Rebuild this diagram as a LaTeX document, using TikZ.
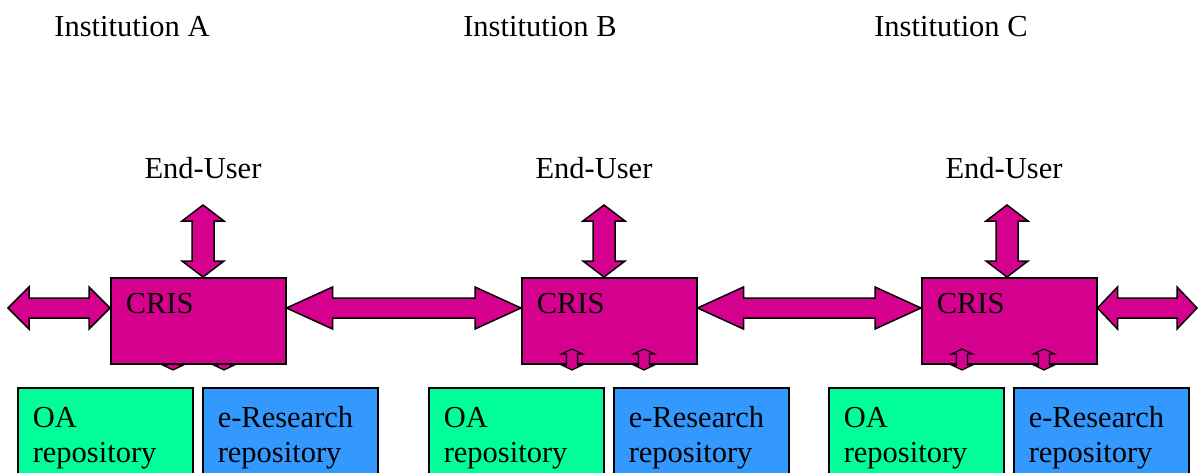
\documentclass[tikz,border=0pt]{standalone}
\usepackage{fontspec}
\setmainfont{Liberation Serif}
\usetikzlibrary{calc}

\definecolor{crismag}{RGB}{214,0,143}
\definecolor{oagreen}{RGB}{0,255,153}
\definecolor{eresblue}{RGB}{51,153,255}

\tikzset{
	box/.style={draw=black, line width=1.5pt, anchor=north west, inner sep=15pt, text width=145pt},
	crisbox/.style={box, fill=crismag, minimum height=86pt, text height=21pt, text depth=35pt},
	oabox/.style={box, fill=oagreen, align=left, minimum height=100pt},
	eresbox/.style={box, fill=eresblue, align=left, minimum height=100pt},
	blockarrow/.style={draw=black, line width=1.5pt, fill=crismag, line join=miter},
	smallarrow/.style={blockarrow, line width=1.2pt},
	label/.style={anchor=base}
}

% horizontal double block arrow: left end, right end, head length
\newcommand\harrow[3]{%
	\draw[blockarrow] let \p1=#1, \p2=#2 in
		(\x1,\y1) -- (\x1+#3,\y1+21pt) -- (\x1+#3,\y1+10pt) -- (\x2-#3,\y1+10pt)
		-- (\x2-#3,\y1+21pt) -- (\x2,\y1) -- (\x2-#3,\y1-21pt) -- (\x2-#3,\y1-10pt)
		-- (\x1+#3,\y1-10pt) -- (\x1+#3,\y1-21pt) -- cycle;}

% vertical double block arrow: top end, bottom end, head length, head half width, shaft half width, style
\newcommand\varrow[6]{%
	\draw[#6] let \p1=#1, \p2=#2 in
		(\x1,\y1) -- (\x1+#4,\y1-#3) -- (\x1+#5,\y1-#3) -- (\x1+#5,\y2+#3)
		-- (\x1+#4,\y2+#3) -- (\x1,\y2) -- (\x1-#4,\y2+#3) -- (\x1-#5,\y2+#3)
		-- (\x1-#5,\y1-#3) -- (\x1-#4,\y1-#3) -- cycle;}

\begin{document}
\begin{tikzpicture}[x=1pt, y=-1pt, font=\fontsize{30.5}{35}\selectfont]
	\clip (0,0) rectangle (1198,472);

	% titles
	\node[label] (instA) at (132,36) {Institution A};
	\node[label] (instB) at (540,36) {Institution B};
	\node[label] (instC) at (951,36) {Institution C};

	\node[label] (userA) at (203,178) {End-User};
	\node[label] (userB) at (594,178) {End-User};
	\node[label] (userC) at (1004,178) {End-User};

	% links to the repositories (A lies under its box)
	\varrow{(173,349)}{(173,370)}{5pt}{10.5pt}{5.5pt}{smallarrow}
	\varrow{(224,349)}{(224,370)}{5pt}{10.5pt}{5.5pt}{smallarrow}

	% CRIS boxes
	\node[crisbox] (crisA) at (110,277) {CRIS};
	\node[crisbox] (crisB) at (521,277) {CRIS};
	\node[crisbox] (crisC) at (921,277) {CRIS};

	\varrow{(572,349)}{(572,370)}{5pt}{10.5pt}{5.5pt}{smallarrow}
	\varrow{(644,349)}{(644,370)}{5pt}{10.5pt}{5.5pt}{smallarrow}
	\varrow{(962,349)}{(962,370)}{5pt}{10.5pt}{5.5pt}{smallarrow}
	\varrow{(1044,349)}{(1044,370)}{5pt}{10.5pt}{5.5pt}{smallarrow}

	% repositories
	\node[oabox] (oaA) at (17,387) {OA\\repository};
	\node[eresbox] (eresA) at (202,387) {e-Research\\repository};
	\node[oabox] (oaB) at (428,387) {OA\\repository};
	\node[eresbox] (eresB) at (613,387) {e-Research\\repository};
	\node[oabox] (oaC) at (828,387) {OA\\repository};
	\node[eresbox] (eresC) at (1013,387) {e-Research\\repository};

	% end-user links
	\coordinate (topA) at (203,205);
	\coordinate (topB) at (604,205);
	\coordinate (topC) at (1007,205);
	\varrow{(topA)}{(topA |- crisA.north)}{16pt}{21pt}{11pt}{blockarrow}
	\varrow{(topB)}{(topB |- crisB.north)}{16pt}{21pt}{11pt}{blockarrow}
	\varrow{(topC)}{(topC |- crisC.north)}{16pt}{21pt}{11pt}{blockarrow}

	% links between institutions
	\coordinate (outL) at (8,308);
	\coordinate (outR) at (1197,308);
	\harrow{(outL)}{($(crisA.north west)+(0,31)$)}{21pt}
	\harrow{($(crisA.north east)+(0,31)$)}{($(crisB.north west)+(0,31)$)}{46pt}
	\harrow{($(crisB.north east)+(0,31)$)}{($(crisC.north west)+(0,31)$)}{46pt}
	\harrow{($(crisC.north east)+(0,31)$)}{(outR)}{20pt}
\end{tikzpicture}
\end{document}
